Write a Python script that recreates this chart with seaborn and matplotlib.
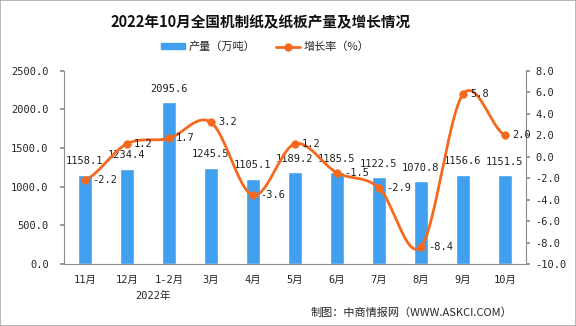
import matplotlib
matplotlib.use("Agg")
import matplotlib.pyplot as plt
import seaborn as sns
import numpy as np
import pandas as pd
from matplotlib.patches import Rectangle, Patch
from matplotlib.lines import Line2D

months = ["11月", "12月", "1-2月", "3月", "4月", "5月", "6月", "7月", "8月", "9月", "10月"]
output = [1158.1, 1234.4, 2095.6, 1245.5, 1105.1, 1189.2, 1185.5, 1122.5, 1070.8, 1156.6, 1151.5]
growth = [-2.2, 1.2, 1.7, 3.2, -3.6, 1.2, -1.5, -2.9, -8.4, 5.8, 2.0]

title = "2022年10月全国机制纸及纸板产量及增长情况"
bar_name = "产量（万吨）"
line_name = "增长率（%）"
year_label = "2022年"
source = "制图：中商情报网（WWW.ASKCI.COM）"

BLUE = "#419FF0"
ORANGE = "#F5691F"
GRAY = "#8C8C8C"

sns.set_theme(style="white")
plt.rcParams['font.family'] = ['Noto Sans CJK SC', 'DejaVu Sans']
MONO = ['DejaVu Sans Mono', 'Noto Sans CJK SC']


def smooth_curve(xs, ys, n=24):
    xs = np.asarray(xs, float)
    ys = np.asarray(ys, float)
    out_x, out_y = [], []
    m = len(ys)
    for i in range(m - 1):
        p0 = ys[i - 1] if i > 0 else ys[i]
        p1 = ys[i]
        p2 = ys[i + 1]
        p3 = ys[i + 2] if i + 2 < m else ys[i + 1]
        t = np.linspace(0, 1, n, endpoint=(i == m - 2))
        y = 0.5 * ((2 * p1) + (-p0 + p2) * t + (2 * p0 - 5 * p1 + 4 * p2 - p3) * t ** 2
                   + (-p0 + 3 * p1 - 3 * p2 + p3) * t ** 3)
        x = xs[i] + (xs[i + 1] - xs[i]) * t
        out_x.append(x)
        out_y.append(y)
    return np.concatenate(out_x), np.concatenate(out_y)


fig = plt.figure(figsize=(5.76, 3.26), dpi=100)
ax = fig.add_axes([0.111, 0.19, 0.802, 0.593])

df = pd.DataFrame({"月份": months, "产量": output})
sns.barplot(data=df, x="月份", y="产量", ax=ax, color=BLUE, width=0.35,
            saturation=1, zorder=2)
ax.set_xlim(-0.5, len(months) - 0.5)
ax.set_ylim(0, 2500)
ax.set_yticks(np.arange(0, 2501, 500))
ax.set_yticklabels([f"{v:.1f}" for v in np.arange(0, 2501, 500)], fontsize=7.5,
                   family=MONO)
ax.set_xticks(range(len(months)))
ax.set_xticklabels(months, fontsize=7.5, family=MONO)
ax.set_xticks(np.arange(-0.5, len(months), 1), minor=True)
ax.tick_params(axis='x', which='major', length=0, pad=8)
ax.tick_params(axis='x', which='minor', length=4, color=GRAY, direction='out')
ax.tick_params(axis='y', length=3, color=GRAY, direction='out', pad=8, left=True)
ax.set_xlabel("")
ax.set_ylabel("")
for s in ["top", "right"]:
    ax.spines[s].set_visible(False)
for s in ["left", "bottom"]:
    ax.spines[s].set_color(GRAY)
    ax.spines[s].set_linewidth(0.8)

for i, v in enumerate(output):
    ax.annotate(f"{v:.1f}", (i, v), xytext=(0, 6), textcoords="offset points",
                ha="center", va="bottom", fontsize=7.5, color="#222222", family=MONO)

ax2 = ax.twinx()
sx, sy = smooth_curve(range(len(growth)), growth)
ax2.plot(sx, sy, color=ORANGE, lw=2, zorder=3)
sns.scatterplot(x=list(range(len(growth))), y=growth, ax=ax2, color=ORANGE,
                s=30, edgecolor=ORANGE, zorder=4, legend=False)
ax2.set_ylim(-10, 8)
ax2.set_yticks(np.arange(-10, 8.1, 2))
ax2.set_yticklabels([f"{v:.1f}" for v in np.arange(-10, 8.1, 2)], fontsize=7.5,
                    family=MONO)
ax2.tick_params(axis='y', length=3, color=GRAY, direction='out', pad=4, right=True)
ax2.set_ylabel("")
for s in ["top", "left", "bottom"]:
    ax2.spines[s].set_visible(False)
ax2.spines["right"].set_color(GRAY)
ax2.spines["right"].set_linewidth(0.8)
ax2.grid(False)
ax.grid(False)

for i, v in enumerate(growth):
    ax2.annotate(f"{v:.1f}", (i, v), xytext=(5, 0), textcoords="offset points",
                 ha="left", va="center", fontsize=7.5, color="#222222", family=MONO)

handles = [Patch(facecolor=BLUE, edgecolor=BLUE),
           Line2D([0], [0], color=ORANGE, lw=2, marker="o", markersize=5)]
fig.legend(handles, [bar_name, line_name], loc="center", bbox_to_anchor=(265 / 576, 0.856),
           ncol=2, frameon=False, fontsize=8, handlelength=2.2, handleheight=0.5,
           handletextpad=0.3, columnspacing=1.8)

fig.text(261 / 576, 1 - 22 / 326, title, ha="center", va="center", fontsize=10.5,
         fontweight="bold", color="#111111")
fig.text(153 / 576, 1 - 296 / 326, year_label, ha="center", va="center", fontsize=7.5,
         family=MONO)
fig.text(512 / 576, 1 - 313 / 326, source, ha="right", va="center", fontsize=8)

fig.patches.append(Rectangle((0, 0), 1, 1, transform=fig.transFigure, fill=False,
                             edgecolor="#AAAAAA", lw=1.2))

fig.savefig("out.png", dpi=100)
